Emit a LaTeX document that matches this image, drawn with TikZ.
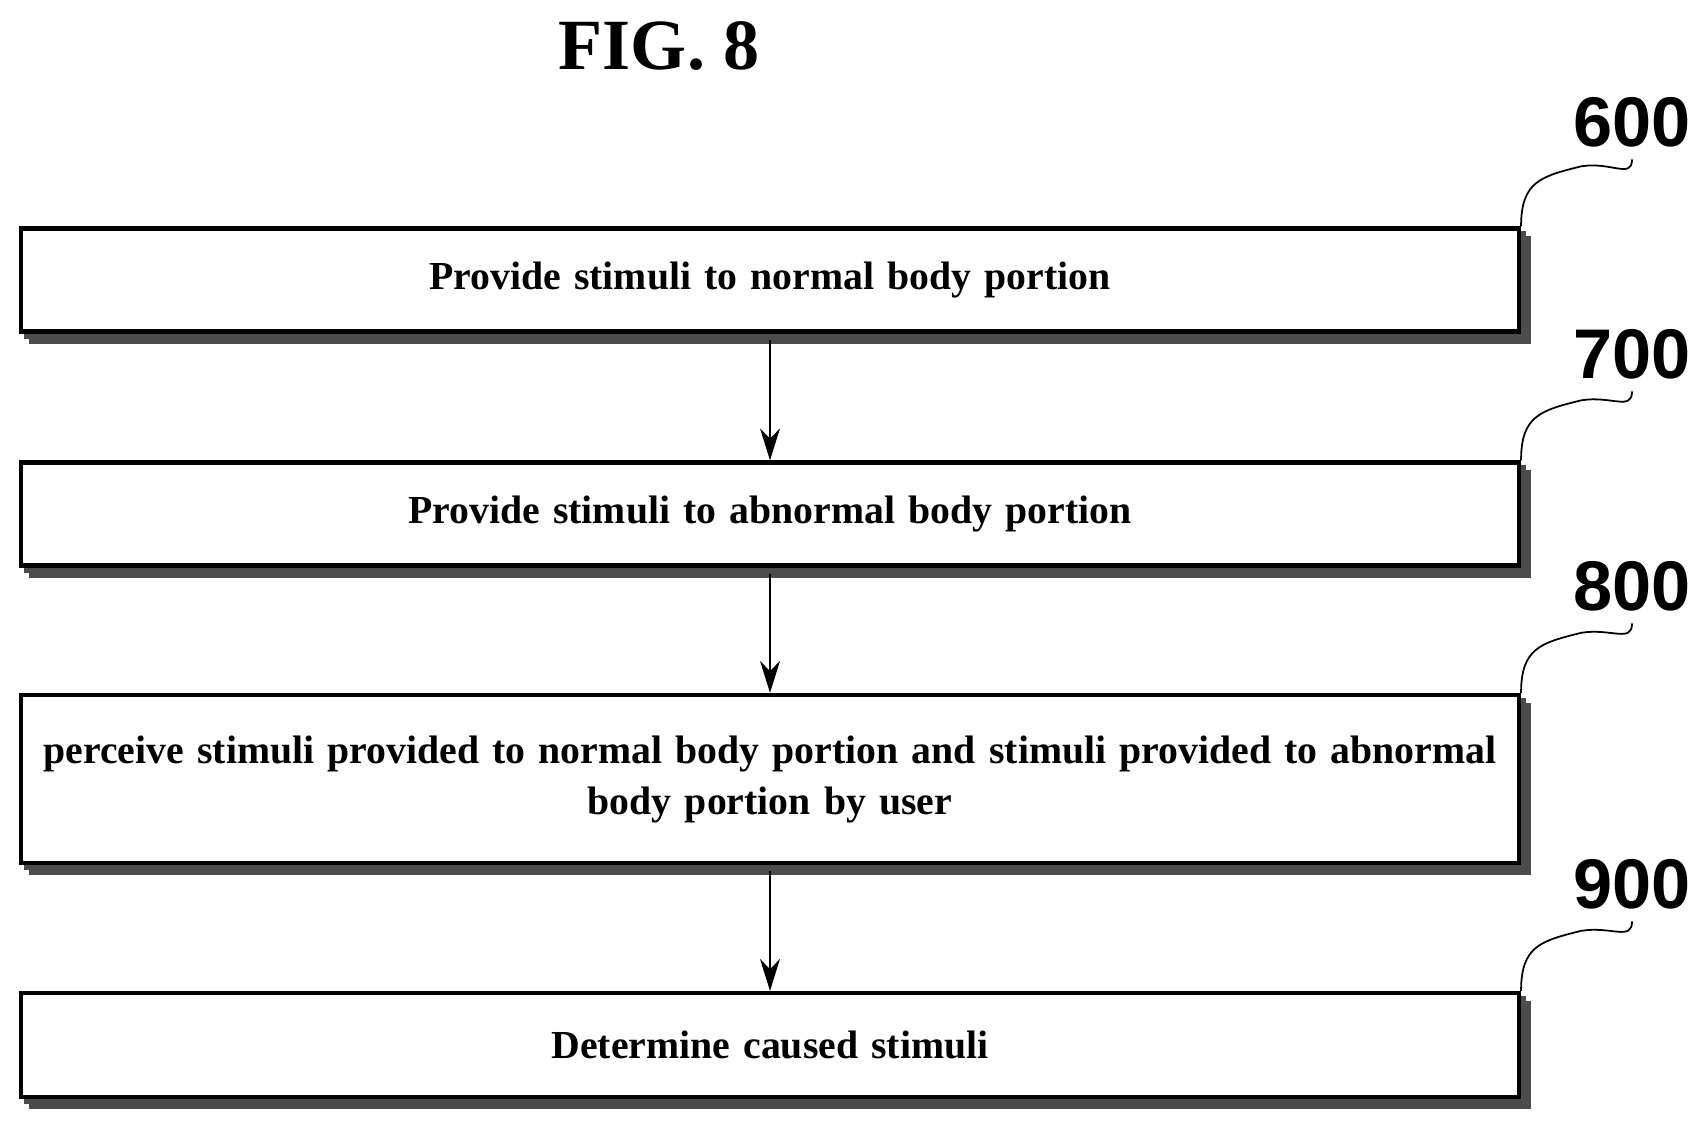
\documentclass[tikz,border=0pt]{standalone}
\usepackage{fontspec}
\setmainfont{Liberation Serif}
\newfontfamily\numfont{Liberation Sans}
\usetikzlibrary{positioning,arrows.meta,shadows}

\tikzset{
  stepbox/.style={draw, line width=1.2pt, fill=white, minimum width=14.97cm,
    align=center, font=\bfseries\fontsize{11.3}{14.5}\selectfont,
    text width=14.9cm, inner xsep=0.03cm,
    double copy shadow={shadow xshift=0.05cm, shadow yshift=-0.05cm, draw=black!70, fill=black!70}},
  reflabel/.style={font=\numfont\bfseries\fontsize{20}{20}\selectfont},
  flow/.style={-{Stealth[length=3.2mm,width=2mm]}, line width=0.4pt},
  leader/.style={line width=0.5pt}
}

\begin{document}
\begin{tikzpicture}[x=0.01cm, y=-0.01cm]
    \useasboundingbox (0,0) rectangle (1707,1128);

    % title
    \node[font=\bfseries\fontsize{20.5}{20.5}\selectfont] (title) at (659,46) {FIG. 8};

    % steps
    \node[stepbox, minimum height=1.03cm] (s600) at (770,280) {Provide stimuli to normal body portion};
    \node[stepbox, minimum height=1.03cm] (s700) at (770,514) {Provide stimuli to abnormal body portion};
    \node[stepbox, minimum height=1.68cm] (s800) at (770,779) {perceive stimuli provided to normal body portion and stimuli provided to abnormal\\ body portion by user};
    \node[stepbox, minimum height=1.04cm] (s900) at (770,1045) {Determine caused stimuli};

    % reference numerals
    \node[reflabel] (n600) at (1632,122) {600};
    \node[reflabel] (n700) at (1632,354) {700};
    \node[reflabel] (n800) at (1632,586) {800};
    \node[reflabel] (n900) at (1632,884) {900};

    % leaders
    \foreach \s in {600,700,800,900}
      \draw[leader] (s\s.north east) .. controls +(0,-45) and +(-40,10) .. +(60,-60)
        .. controls +(30,-5) and +(0,20) .. (n\s.south);

    % arrows
    \draw[flow] ([yshift=-0.06cm]s600.south) -- (s700.north);
    \draw[flow] ([yshift=-0.06cm]s700.south) -- (s800.north);
    \draw[flow] ([yshift=-0.06cm]s800.south) -- (s900.north);
\end{tikzpicture}
\end{document}
